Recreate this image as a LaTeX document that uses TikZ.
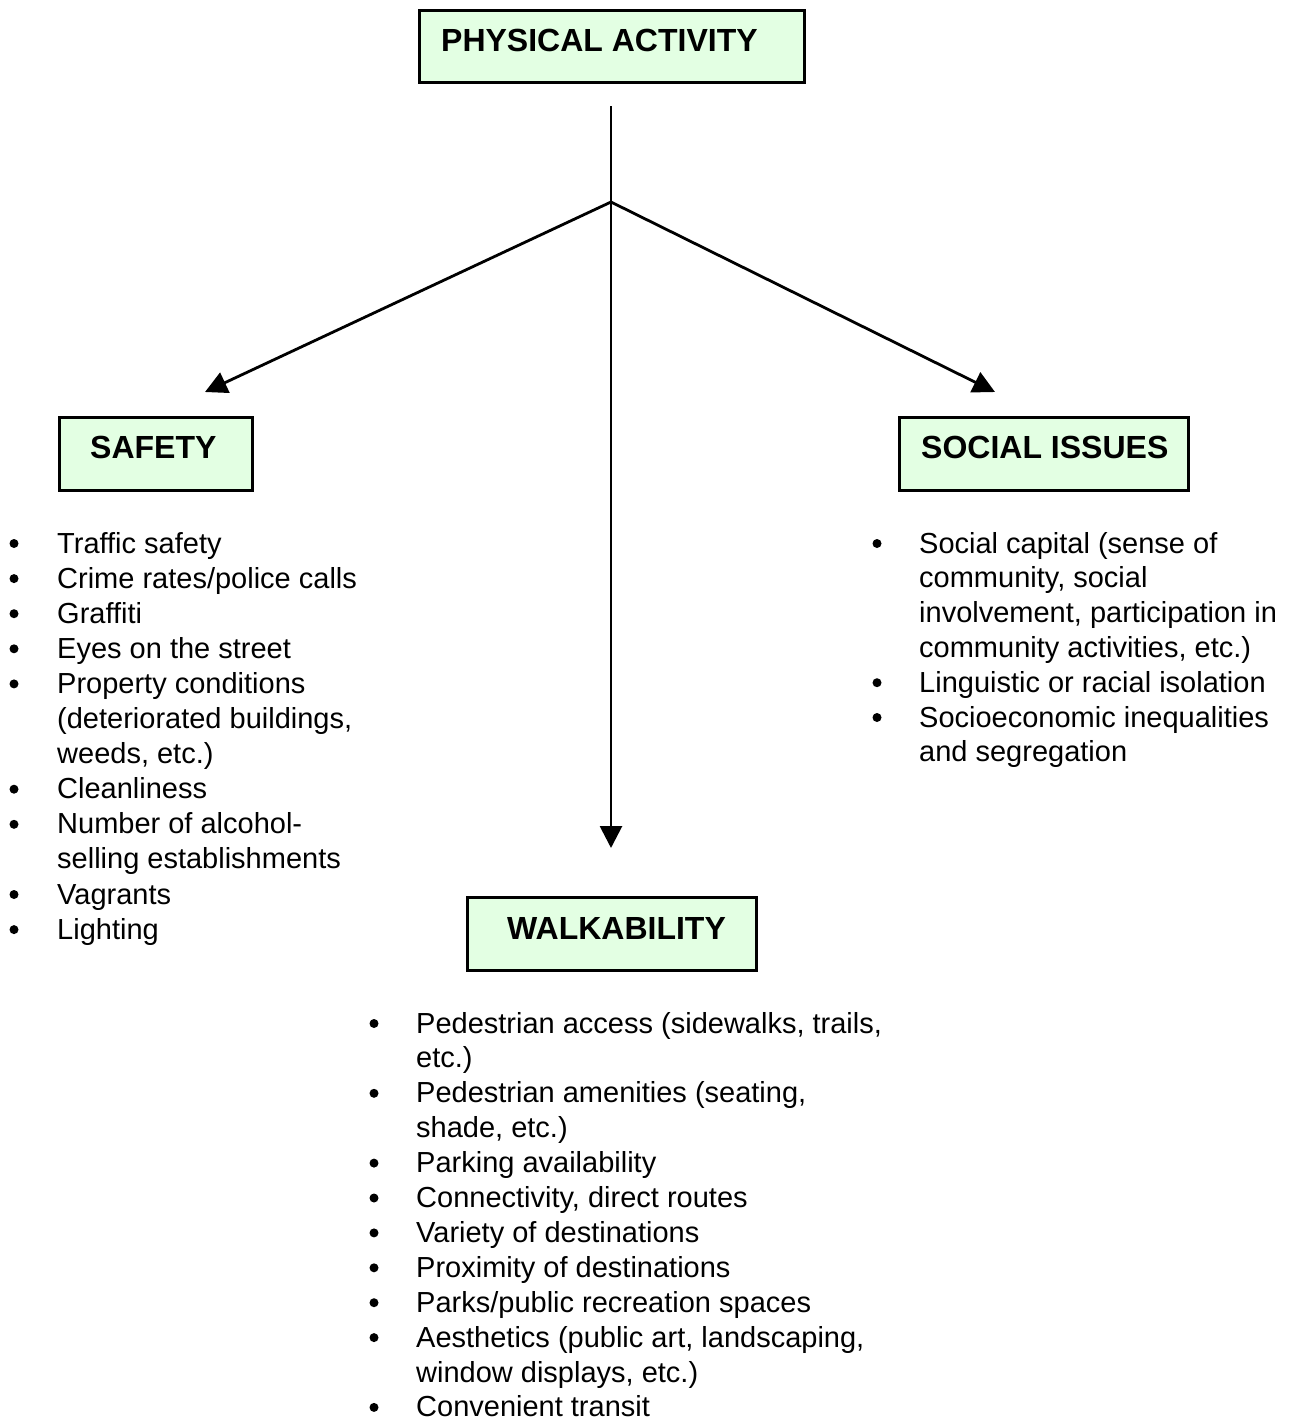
\documentclass[tikz,border=0pt]{standalone}
\usepackage{fontspec}
\setmainfont{Liberation Sans}
\usetikzlibrary{arrows.meta}
\definecolor{boxgreen}{RGB}{227,255,227}
\tikzset{
  hbox/.style={draw=black, line width=3pt, fill=boxgreen, rectangle, inner sep=0pt},
  htext/.style={font=\fontsize{32}{36}\selectfont\bfseries, inner sep=0pt, anchor=base west},
  itemtext/.style={font=\fontsize{29}{35}\selectfont, inner sep=0pt, anchor=base west},
  bulletdot/.style={circle, fill=black, inner sep=0pt, minimum size=9pt},
  conn/.style={line width=2.8pt},
  arr/.style={conn, -{Triangle[length=22pt,width=22pt]}}
}
\begin{document}
\begin{tikzpicture}[x=1pt,y=-1pt]
\useasboundingbox (0,0) rectangle (1296,1422);

% boxes
\node[hbox, minimum width=385pt, minimum height=72pt] (pa) at (611.5,46) {};
\node[htext] (patext) at (441,51) {PHYSICAL ACTIVITY};

\node[hbox, minimum width=193pt, minimum height=73pt] (safety) at (155.5,453.5) {};
\node[htext] (safetytext) at (90,458) {SAFETY};

\node[hbox, minimum width=289pt, minimum height=73pt] (social) at (1043.5,453.5) {};
\node[htext] (socialtext) at (921,458) {SOCIAL ISSUES};

\node[hbox, minimum width=289pt, minimum height=73pt] (walk) at (611.5,933.5) {};
\node[htext] (walktext) at (507,939) {WALKABILITY};

% connectors
\coordinate (ltop) at (611,106);
\coordinate (junc) at (611,202);
\coordinate (tipS) at (205,392);
\coordinate (tipR) at (995,392);
\coordinate (tipW) at (611,848);
\draw[arr] (ltop) -- (tipW);
\draw[arr] (junc) -- (tipS);
\draw[arr] (junc) -- (tipR);

% safety list
\foreach \b/\t [count=\i from 0] in {1/{Traffic safety}, 1/{Crime rates/police calls}, 1/{Graffiti}, 1/{Eyes on the street}, 1/{Property conditions}, 0/{(deteriorated buildings,}, 0/{weeds, etc.)}, 1/{Cleanliness}, 1/{Number of alcohol-}, 0/{selling establishments}, 1/{Vagrants}, 1/{Lighting}} {
  \node[itemtext] (st\i) at (57,553+35.1*\i) {\t};
  \ifnum\b=1 \node[bulletdot] (sb\i) at (14,543.5+35.1*\i) {};\fi
}

% social list
\foreach \b/\t [count=\i from 0] in {1/{Social capital (sense of}, 0/{community, social}, 0/{involvement, participation in}, 0/{community activities, etc.)}, 1/{Linguistic or racial isolation}, 1/{Socioeconomic inequalities}, 0/{and segregation}} {
  \node[itemtext] (ot\i) at (919,553+34.8*\i) {\t};
  \ifnum\b=1 \node[bulletdot] (ob\i) at (877,543.5+34.8*\i) {};\fi
}

% walkability list
\foreach \b/\t [count=\i from 0] in {1/{Pedestrian access (sidewalks, trails,}, 0/{etc.)}, 1/{Pedestrian amenities (seating,}, 0/{shade, etc.)}, 1/{Parking availability}, 1/{Connectivity, direct routes}, 1/{Variety of destinations}, 1/{Proximity of destinations}, 1/{Parks/public recreation spaces}, 1/{Aesthetics (public art, landscaping,}, 0/{window displays, etc.)}, 1/{Convenient transit}} {
  \node[itemtext] (wt\i) at (416,1033+34.9*\i) {\t};
  \ifnum\b=1 \node[bulletdot] (wb\i) at (374,1023.5+34.9*\i) {};\fi
}
\end{tikzpicture}
\end{document}
